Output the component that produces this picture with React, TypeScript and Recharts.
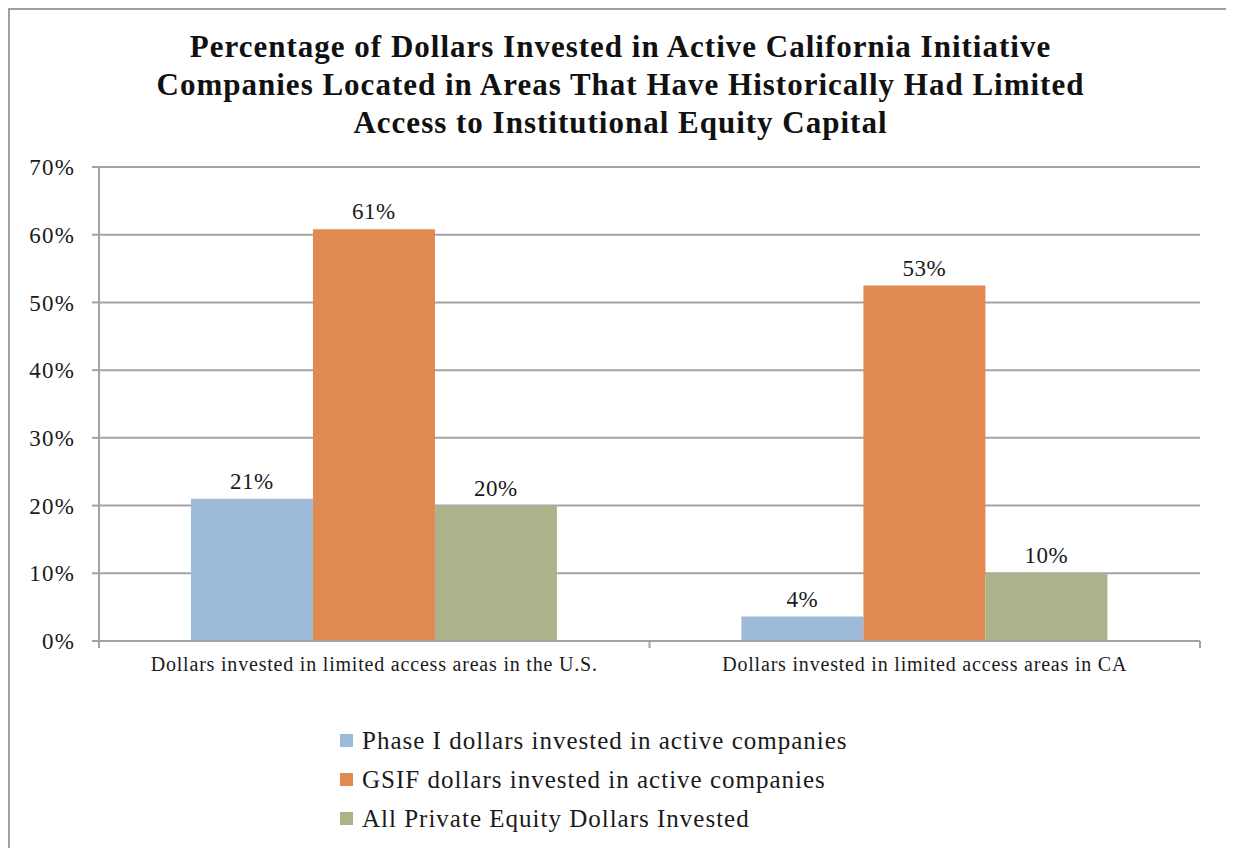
import React from 'react';
import { BarChart, Bar, XAxis, YAxis, CartesianGrid, Legend, LabelList } from 'recharts';

// categorias y series
const categories = [
  'Dollars invested in limited access areas in the U.S.',
  'Dollars invested in limited access areas in CA',
];
const phaseOne = [21, 3.6];
const gsif = [60.8, 52.5];
const allPrivate = [20, 10];
const yTicks = [0, 10, 20, 30, 40, 50, 60, 70];

const seriesNames = {
  phaseOne: 'Phase I dollars invested in active companies',
  gsif: 'GSIF dollars invested in active companies',
  allPrivate: 'All Private Equity Dollars Invested',
};

const colors = {
  phaseOne: '#9dbbd9',
  gsif: '#e08a51',
  allPrivate: '#acb38a',
};

const data = categories.map((name, i) => ({
  name,
  phaseOne: phaseOne[i],
  gsif: gsif[i],
  allPrivate: allPrivate[i],
}));

const FONT = '"Liberation Serif", "Times New Roman", serif';
const GRID = '#a3a3a3';

// etiqueta del eje X con marcas en los limites de cada categoria
const CategoryTick = (props: any) => {
  const { x, y, payload, index, visibleTicksCount } = props;
  const half = payload.offset || 0;
  const axisY = y - 18;
  return (
    <g>
      <line x1={x - half} y1={axisY} x2={x - half} y2={axisY + 7} stroke={GRID} strokeWidth={2} />
      {index === visibleTicksCount - 1 && (
        <line x1={x + half} y1={axisY} x2={x + half} y2={axisY + 7} stroke={GRID} strokeWidth={2} />
      )}
      <text
        x={x}
        y={y - 2}
        dy="0.71em"
        textAnchor="middle"
        fontSize={20}
        letterSpacing={0.8}
        fill="#1a1a1a"
        fontFamily={FONT}
      >
        {payload.value}
      </text>
    </g>
  );
};

const LegendContent = () => (
  <div style={{ paddingLeft: 330, paddingTop: 30, fontFamily: FONT }}>
    {(['phaseOne', 'gsif', 'allPrivate'] as const).map((key) => (
      <div
        key={key}
        style={{ display: 'flex', alignItems: 'center', height: 39, fontSize: 25, letterSpacing: 1, color: '#1a1a1a' }}
      >
        <span style={{ width: 13, height: 13, background: colors[key], marginRight: 9, display: 'inline-block' }} />
        {seriesNames[key]}
      </div>
    ))}
  </div>
);

const App: React.FC = () => {
  return (
    <div
      style={{
        position: 'relative',
        width: 1221,
        height: 860,
        border: '2px solid #a0a0a0',
        background: '#fff',
      }}
    >
      <div
        style={{
          position: 'absolute',
          top: 18,
          left: 0,
          width: '100%',
          textAlign: 'center',
          fontFamily: FONT,
          fontWeight: 'bold',
          fontSize: 31,
          letterSpacing: 1,
          lineHeight: '38px',
          color: '#111',
        }}
      >
        Percentage of Dollars Invested in Active California Initiative
        <br />
        Companies Located in Areas That Have Historically Had Limited
        <br />
        Access to Institutional Equity Capital
      </div>
      <BarChart
        width={1219}
        height={821}
        data={data}
        margin={{ top: 157, right: 29, left: 0, bottom: 0 }}
        barCategoryGap="16.7%"
        barGap={0}
      >
        <CartesianGrid vertical={false} stroke={GRID} strokeWidth={2} />
        <XAxis
          dataKey="name"
          height={50}
          tickSize={7}
          tickMargin={11}
          tickLine={false}
          axisLine={{ stroke: GRID, strokeWidth: 2 }}
          tick={<CategoryTick />}
          interval={0}
        />
        <YAxis
          width={89}
          domain={[0, 70]}
          ticks={yTicks}
          tickFormatter={(v: number) => `${v}%`}
          tickSize={7}
          tickMargin={17}
          axisLine={{ stroke: GRID, strokeWidth: 2 }}
          tickLine={{ stroke: GRID, strokeWidth: 2 }}
          tick={{ fontSize: 23, fill: '#1a1a1a', fontFamily: FONT, letterSpacing: 1.2 }}
        />
        <Legend verticalAlign="bottom" height={140} content={<LegendContent />} />
        {(['phaseOne', 'gsif', 'allPrivate'] as const).map((key) => (
          <Bar key={key} dataKey={key} name={seriesNames[key]} fill={colors[key]} isAnimationActive={false}>
            <LabelList
              dataKey={key}
              position="top"
              offset={10}
              formatter={(v: any) => `${Math.round(Number(v))}%`}
              style={{ fontSize: 23, fill: '#1a1a1a', fontFamily: FONT, letterSpacing: 0.5 }}
            />
          </Bar>
        ))}
      </BarChart>
    </div>
  );
};

export default App;
